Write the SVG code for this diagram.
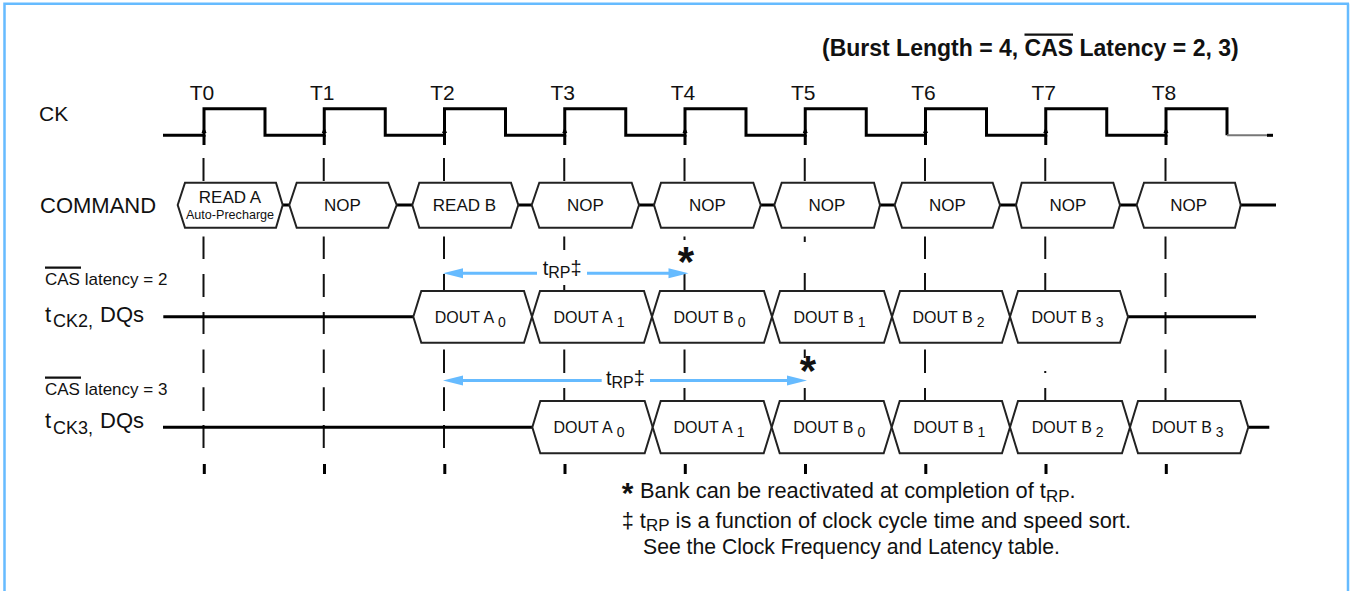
<svg xmlns="http://www.w3.org/2000/svg" width="1352" height="591" viewBox="0 0 1352 591">
<style>
.t{font-family:"Liberation Sans",Arial,sans-serif;fill:#111}
.b{font-weight:bold}
.box{fill:#fff;stroke:#222;stroke-width:2;stroke-linejoin:miter}
.sig{fill:none;stroke:#000;stroke-width:3}
.dash{fill:none;stroke:#111;stroke-width:2}
.tick{fill:none;stroke:#000;stroke-width:3}
.trp{fill:none;stroke:#66BBFF;stroke-width:3}
.ah{fill:#66BBFF}
.ov{stroke:#111;stroke-width:2.2}
</style>
<path d="M1348,3.5V591 M4.5,591V3.7H1349" fill="none" stroke="#66BBFF" stroke-width="2.5"/>

<g id="title">
<text class="t b" x="822" y="56" font-size="23">(Burst Length = 4, CAS Latency = 2, 3)</text>
<line class="ov" x1="1024.5" y1="34.7" x2="1073" y2="34.7"/>
</g>

<g id="clock-labels" class="t" font-size="21">
<text x="202" y="100" text-anchor="middle">T0</text>
<text x="322.25" y="100" text-anchor="middle">T1</text>
<text x="442.5" y="100" text-anchor="middle">T2</text>
<text x="562.75" y="100" text-anchor="middle">T3</text>
<text x="683" y="100" text-anchor="middle">T4</text>
<text x="803.25" y="100" text-anchor="middle">T5</text>
<text x="923.5" y="100" text-anchor="middle">T6</text>
<text x="1043.75" y="100" text-anchor="middle">T7</text>
<text x="1164" y="100" text-anchor="middle">T8</text>
</g>

<g id="row-labels" class="t">
<text x="39" y="121" font-size="21">CK</text>
<text x="40" y="212.7" font-size="22">COMMAND</text>
<text x="45" y="285" font-size="17">CAS latency = 2</text>
<line class="ov" x1="45" y1="267.7" x2="81" y2="267.7"/>
<text x="45" y="321.7" font-size="22">t</text>
<text x="53" y="327" font-size="18">CK2,</text>
<text x="100" y="321.7" font-size="22">DQs</text>
<text x="45" y="395" font-size="17">CAS latency = 3</text>
<line class="ov" x1="45" y1="377.7" x2="81" y2="377.7"/>
<text x="45" y="428.3" font-size="22">t</text>
<text x="53" y="434" font-size="18">CK3,</text>
<text x="100" y="428.3" font-size="22">DQs</text>
</g>

<g id="connectors">
<path class="dash" d="M203.5,158V181M203.5,236.5V259M203.5,274V297M203.5,312V334M203.5,349.6V373M203.5,387.3V411M203.5,425V448
M323.75,158V181M323.75,236.5V259M323.75,274V297M323.75,312V334M323.75,349.6V373M323.75,387.3V411M323.75,425V448
M444,158V181M444,236.5V259M444,274V291M444,349.6V373M444,387.3V411M444,425V448
M564.25,158V181M564.25,236.5V250M564.25,285V291M564.25,349.6V373M564.25,388V401
M684.5,158V181M684.5,236.5V240M684.5,273V291M684.5,349.6V373M684.5,388V401
M804.75,158V181M804.75,236.5V242M804.75,273V291M804.75,349.6V358M804.75,388V401
M925,158V181M925,236.5V259M925,273V291M925,349.6V373M925,388V401
M1045.25,158V181M1045.25,236.5V259M1045.25,273V291M1045.25,371V373M1045.25,388V401
M1165.5,158V181M1165.5,236.5V259M1165.5,273V297M1165.5,312V334M1165.5,349.6V373M1165.5,388V401"/>
<path class="tick" d="M204.3,464V474M324.5,464V474M444.8,464V474M565,464V474M685.3,464V474M805.5,464V474M925.8,464V474M1046,464V474M1166.3,464V474"/>
<path class="sig" d="M163,135.3H204V108.7H265V135.3H324.25V108.7H385.25V135.3H444.5V108.7H505.5V135.3H564.75V108.7H625.75V135.3H685V108.7H746V135.3H805.25V108.7H866.25V135.3H925.5V108.7H986.5V135.3H1045.75V108.7H1106.75V135.3H1166V108.7H1227V135.3"/>
<path d="M1227,135.3H1268" stroke="#777" stroke-width="2"/>
<path class="sig" d="M1267,135.3H1273"/>
<path class="sig" d="M204,135V145M324.25,135V145M444.5,135V145M564.75,135V145M685,135V145M805.25,135V145M925.5,135V145M1045.75,135V145M1166,135V145"/>
<path fill="#000" d="M201.5,133l2.5,-6l2.5,6zM321.75,133l2.5,-6l2.5,6zM442,133l2.5,-6l2.5,6zM562.25,133l2.5,-6l2.5,6zM682.5,133l2.5,-6l2.5,6zM802.75,133l2.5,-6l2.5,6zM923,133l2.5,-6l2.5,6zM1043.25,133l2.5,-6l2.5,6zM1163.5,133l2.5,-6l2.5,6z"/>
<path class="sig" d="M282.7,205H289.3M396.7,205H412.3M518.3,205H531.7M639,205H654M760.7,205H774.3M880,205H894.7M1000,205H1016M1120,205H1136.7M1240.7,205H1276"/>
<path class="sig" d="M163.3,316.8H413.3M1128,316.8H1256"/>
<path class="sig" d="M163,427.3H532.3M1248.3,427.3H1269.3"/>
<path class="trp" d="M455,273.3H537M587,273.3H676"/>
<path class="ah" d="M443,273.3l20,-5v10zM688.5,273.3l-20,-5v10z"/>
<path class="trp" d="M455,380.5H601.7M650,380.5H795"/>
<path class="ah" d="M443,380.5l20,-5v10zM807,380.5l-20,-5v10z"/>
</g>

<g id="trp-labels" class="t">
<text x="542.7" y="275" font-size="20">t<tspan font-size="16" dy="3">RP</tspan><tspan dy="-3">‡</tspan></text>
<text x="606" y="385" font-size="20">t<tspan font-size="16" dy="3">RP</tspan><tspan dy="-3">‡</tspan></text>
<text class="b" x="686" y="276" font-size="42" text-anchor="middle">*</text>
<text class="b" x="808" y="385" font-size="42" text-anchor="middle">*</text>
</g>

<g id="cmd-0"><path class="box" d="M177.7,205L185,182.7H276L282.7,205L276,227.7H185Z"/>
<text class="t" x="230" y="203.3" font-size="17" text-anchor="middle">READ A</text>
<text class="t" x="230" y="219" font-size="12.6" text-anchor="middle">Auto-Precharge</text></g>
<g id="cmd-1"><path class="box" d="M289.3,205L296.7,182.7H388.3L396.7,205L388.3,227.7H296.7Z"/>
<text class="t" x="342.5" y="210.7" font-size="17" text-anchor="middle">NOP</text></g>
<g id="cmd-2"><path class="box" d="M412.3,205L419.3,182.7H511L518.3,205L511,227.7H419.3Z"/>
<text class="t" x="464.5" y="210.7" font-size="17" text-anchor="middle">READ B</text></g>
<g id="cmd-3"><path class="box" d="M531.7,205L539.3,182.7H631.7L639,205L631.7,227.7H539.3Z"/>
<text class="t" x="585.5" y="210.7" font-size="17" text-anchor="middle">NOP</text></g>
<g id="cmd-4"><path class="box" d="M654,205L661,182.7H753.3L760.7,205L753.3,227.7H661Z"/>
<text class="t" x="707.3" y="210.7" font-size="17" text-anchor="middle">NOP</text></g>
<g id="cmd-5"><path class="box" d="M774.3,205L781.7,182.7H874L880,205L874,227.7H781.7Z"/>
<text class="t" x="827" y="210.7" font-size="17" text-anchor="middle">NOP</text></g>
<g id="cmd-6"><path class="box" d="M894.7,205L902,182.7H992.7L1000,205L992.7,227.7H902Z"/>
<text class="t" x="947.3" y="210.7" font-size="17" text-anchor="middle">NOP</text></g>
<g id="cmd-7"><path class="box" d="M1016,205L1021.7,182.7H1113.3L1120,205L1113.3,227.7H1021.7Z"/>
<text class="t" x="1068" y="210.7" font-size="17" text-anchor="middle">NOP</text></g>
<g id="cmd-8"><path class="box" d="M1136.7,205L1144,182.7H1235L1240.7,205L1235,227.7H1144Z"/>
<text class="t" x="1188.7" y="210.7" font-size="17" text-anchor="middle">NOP</text></g>

<g id="cl2-a0"><path class="box" d="M413.3,316.8L421.3,291H524L532,316.8L524,342.7H421.3Z"/>
<text class="t" x="434.8" y="322.8" font-size="16">DOUT A<tspan font-size="14" dx="4" dy="4">0</tspan></text></g>
<g id="cl2-a1"><path class="box" d="M532,316.8L540,291H644L652,316.8L644,342.7H540Z"/>
<text class="t" x="553.5" y="322.8" font-size="16">DOUT A<tspan font-size="14" dx="4" dy="4">1</tspan></text></g>
<g id="cl2-b0"><path class="box" d="M652,316.8L660,291H764L772,316.8L764,342.7H660Z"/>
<text class="t" x="673.5" y="322.8" font-size="16">DOUT B<tspan font-size="14" dx="4" dy="4">0</tspan></text></g>
<g id="cl2-b1"><path class="box" d="M772,316.8L780,291H884L892,316.8L884,342.7H780Z"/>
<text class="t" x="793.5" y="322.8" font-size="16">DOUT B<tspan font-size="14" dx="4" dy="4">1</tspan></text></g>
<g id="cl2-b2"><path class="box" d="M892,316.8L900,291H1002L1010,316.8L1002,342.7H900Z"/>
<text class="t" x="912.5" y="322.8" font-size="16">DOUT B<tspan font-size="14" dx="4" dy="4">2</tspan></text></g>
<g id="cl2-b3"><path class="box" d="M1010,316.8L1018,291H1120L1128,316.8L1120,342.7H1018Z"/>
<text class="t" x="1031.5" y="322.8" font-size="16">DOUT B<tspan font-size="14" dx="4" dy="4">3</tspan></text></g>

<g id="cl3-a0"><path class="box" d="M532.3,427.2L540.3,401H644.7L652.7,427.2L644.7,453.3H540.3Z"/>
<text class="t" x="553.5" y="433.3" font-size="16">DOUT A<tspan font-size="14" dx="4" dy="4">0</tspan></text></g>
<g id="cl3-a1"><path class="box" d="M652.7,427.2L660.7,401H763.7L771.7,427.2L763.7,453.3H660.7Z"/>
<text class="t" x="673.5" y="433.3" font-size="16">DOUT A<tspan font-size="14" dx="4" dy="4">1</tspan></text></g>
<g id="cl3-b0"><path class="box" d="M771.7,427.2L779.7,401H883.7L891.7,427.2L883.7,453.3H779.7Z"/>
<text class="t" x="793.3" y="433.3" font-size="16">DOUT B<tspan font-size="14" dx="4" dy="4">0</tspan></text></g>
<g id="cl3-b1"><path class="box" d="M891.7,427.2L899.7,401H1002L1010,427.2L1002,453.3H899.7Z"/>
<text class="t" x="913.3" y="433.3" font-size="16">DOUT B<tspan font-size="14" dx="4" dy="4">1</tspan></text></g>
<g id="cl3-b2"><path class="box" d="M1010,427.2L1018,401H1122L1130,427.2L1122,453.3H1018Z"/>
<text class="t" x="1031.7" y="433.3" font-size="16">DOUT B<tspan font-size="14" dx="4" dy="4">2</tspan></text></g>
<g id="cl3-b3"><path class="box" d="M1130,427.2L1138,401H1240.3L1248.3,427.2L1240.3,453.3H1138Z"/>
<text class="t" x="1151.7" y="433.3" font-size="16">DOUT B<tspan font-size="14" dx="4" dy="4">3</tspan></text></g>

<g id="notes" class="t">
<text class="b" x="627.5" y="503" font-size="30" text-anchor="middle">*</text>
<text x="640" y="498" font-size="21.8">Bank can be reactivated at completion of t<tspan font-size="17" dy="3.5">RP</tspan><tspan dy="-3.5">.</tspan></text>
<text x="621.7" y="527.5" font-size="21.8">‡ t<tspan font-size="17" dy="3">RP</tspan><tspan dy="-3"> is a function of clock cycle time and speed sort.</tspan></text>
<text x="643" y="553.5" font-size="21.2">See the Clock Frequency and Latency table.</text>
</g>
</svg>
